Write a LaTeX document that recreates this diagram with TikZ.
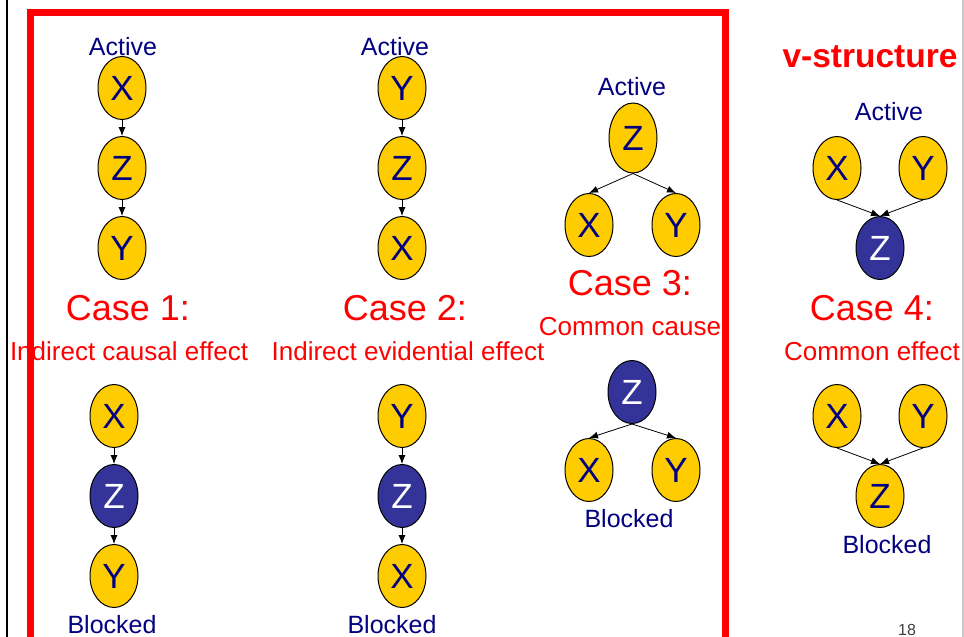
\documentclass[tikz,border=0pt]{standalone}
\usepackage{fontspec}
\setmainfont{Liberation Sans}
\usetikzlibrary{shapes.geometric,arrows.meta}
\definecolor{nodeyellow}{RGB}{255,204,0}
\definecolor{nodeblue}{RGB}{51,51,153}
\definecolor{navytext}{RGB}{0,0,128}
\definecolor{redtext}{RGB}{255,0,0}
\definecolor{pagegray}{RGB}{200,200,200}
\definecolor{numgray}{RGB}{64,64,64}
\begin{document}
\begin{tikzpicture}[x=1pt,y=-1pt,
  var/.style={ellipse, draw=black, line width=1pt, minimum width=48pt, minimum height=63pt, inner sep=0pt, font=\fontsize{35}{35}\selectfont},
  obs/.style={var, fill=nodeyellow, text=navytext},
  hid/.style={var, fill=nodeblue, text=white},
  edge/.style={-{Latex[length=9pt,width=7pt]}, line width=0.8pt},
  status/.style={anchor=base, text=navytext, font=\fontsize{25}{25}\selectfont, inner sep=0pt},
  casetitle/.style={anchor=base, text=redtext, font=\fontsize{36}{36}\selectfont, inner sep=0pt},
  casesub/.style={anchor=base, text=redtext, font=\fontsize{26}{26}\selectfont, inner sep=0pt},
  vtitle/.style={anchor=base, text=redtext, font=\fontsize{33.5}{33.5}\selectfont\bfseries, inner sep=0pt}
]
\useasboundingbox (0,0) rectangle (964,637);
% page borders
\draw[line width=2pt] (7,0) -- (7,637);
\draw[pagegray, line width=1.5pt] (963,0) -- (963,637);
\draw[redtext, line width=7pt, line join=miter] (30.5,660) -- (30.5,12.5) -- (725.5,12.5) -- (725.5,660);

% ---------- Case 1 ----------
\node[status] (act1) at (123,55) {Active};
\node[obs] (c1x) at (122,88) {X};
\node[obs] (c1z) at (122,168) {Z};
\node[obs] (c1y) at (122,248) {Y};
\draw[edge] (c1x) -- (c1z);
\draw[edge] (c1z) -- (c1y);
\node[casetitle] (t1) at (128,320) {Case 1:};
\node[casesub] (s1) at (129,360) {Indirect causal effect};
\node[obs] (b1x) at (114,416) {X};
\node[hid] (b1z) at (114,496) {Z};
\node[obs] (b1y) at (114,576) {Y};
\draw[edge] (b1x) -- (b1z);
\draw[edge] (b1z) -- (b1y);
\node[status] (blk1) at (112,633) {Blocked};

% ---------- Case 2 ----------
\node[status] (act2) at (395,55) {Active};
\node[obs] (c2y) at (402,88) {Y};
\node[obs] (c2z) at (402,168) {Z};
\node[obs] (c2x) at (402,248) {X};
\draw[edge] (c2y) -- (c2z);
\draw[edge] (c2z) -- (c2x);
\node[casetitle] (t2) at (405,320) {Case 2:};
\node[casesub] (s2) at (408,360) {Indirect evidential effect};
\node[obs] (b2y) at (402,416) {Y};
\node[hid] (b2z) at (402,496) {Z};
\node[obs] (b2x) at (402,576) {X};
\draw[edge] (b2y) -- (b2z);
\draw[edge] (b2z) -- (b2x);
\node[status] (blk2) at (392,633) {Blocked};

% ---------- Case 3 ----------
\node[status] (act3) at (632,95) {Active};
\node[obs, minimum height=70pt] (c3z) at (633,138) {Z};
\node[obs] (c3x) at (589,225) {X};
\node[obs] (c3y) at (676,225) {Y};
\draw[edge] (c3z.south) -- (c3x.north);
\draw[edge] (c3z.south) -- (c3y.north);
\node[casetitle] (t3) at (630,295) {Case 3:};
\node[casesub] (s3) at (630,335) {Common cause};
\node[hid] (b3z) at (632,392) {Z};
\node[obs] (b3x) at (589,470) {X};
\node[obs] (b3y) at (676,470) {Y};
\draw[edge] (b3z.south) -- (b3x.north);
\draw[edge] (b3z.south) -- (b3y.north);
\node[status] (blk3) at (629,527) {Blocked};

% ---------- Case 4 ----------
\node[vtitle] (vs) at (870,67) {v-structure};
\node[status] (act4) at (889,120) {Active};
\node[obs] (c4x) at (837,168) {X};
\node[obs] (c4y) at (923,168) {Y};
\node[hid] (c4z) at (880,248) {Z};
\draw[edge] (c4x.south) -- (c4z.north);
\draw[edge] (c4y.south) -- (c4z.north);
\node[casetitle] (t4) at (872,320) {Case 4:};
\node[casesub] (s4) at (872,360) {Common effect};
\node[obs] (b4x) at (837,416) {X};
\node[obs] (b4y) at (923,416) {Y};
\node[obs] (b4z) at (880,496) {Z};
\draw[edge] (b4x.south) -- (b4z.north);
\draw[edge] (b4y.south) -- (b4z.north);
\node[status] (blk4) at (887,553) {Blocked};

\node[anchor=base, text=numgray, font=\fontsize{16}{16}\selectfont, inner sep=0pt] (pg) at (907,635) {18};
\end{tikzpicture}
\end{document}
